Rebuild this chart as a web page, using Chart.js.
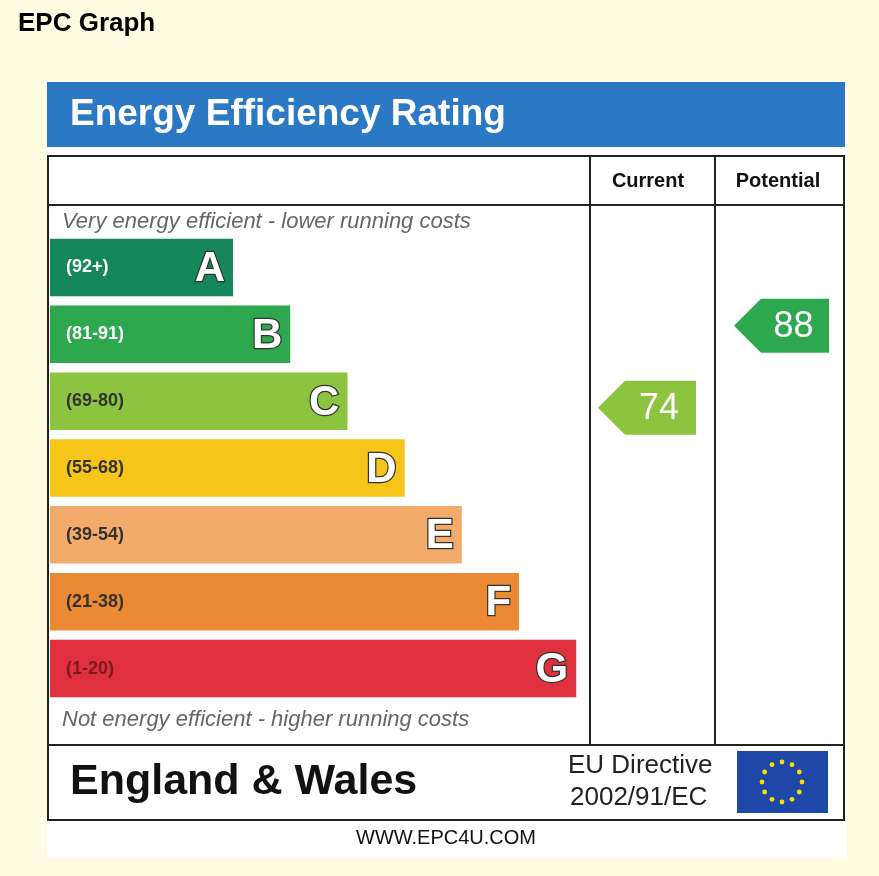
<!DOCTYPE html>
<html><head><meta charset="utf-8">
<script src="https://cdn.jsdelivr.net/npm/chart.js@4/dist/chart.umd.min.js"></script>
<style>html,body{margin:0;padding:0;background:#fffde1}canvas{display:block}</style>
</head><body>
<div style="width:879px;height:876px"><canvas id="c"></canvas></div>
<script>
const bands = ['A','B','C','D','E','F','G'];
const ranges = ['(92+)','(81-91)','(69-80)','(55-68)','(39-54)','(21-38)','(1-20)'];
const bandLengths = [32,42,52,62,72,82,92];
const bandColors = ['#15875a','#2ea84f','#8cc43f','#f7c51a','#f3ab6c','#ec8a34','#e0303e'];
const rangeTextColors = ['#fff','#fff','#333','#333','#333','#333','#7a1a1a'];
const currentRating = 74;
const potentialRating = 88;
const bandMins = [92,81,69,55,39,21,1];
const bandMaxs = [100,91,80,68,54,38,20];

function bandPos(r){
  for(let i=0;i<bandMins.length;i++){ if(r>=bandMins[i]){ const f=(bandMaxs[i]-r)/(bandMaxs[i]-bandMins[i]+1); return i-0.5+f+0.1; } }
  return 6;
}

const frame = {
  id:'frame',
  beforeDraw(ch){
    const c=ch.ctx; c.save();
    c.fillStyle='#fffde1'; c.fillRect(0,0,ch.width,ch.height);
    c.fillStyle='#000'; c.font='bold 26px Liberation Sans, Arial'; c.textBaseline='middle';
    c.fillText('EPC Graph',18,24);
    c.fillStyle='#fff'; c.fillRect(47,82,800,776);
    c.fillStyle='#2b78c5'; c.fillRect(47,82,798,65);
    c.fillStyle='#fff'; c.font='bold 37px Liberation Sans, Arial'; c.fillText('Energy Efficiency Rating',70,115);
    c.strokeStyle='#222'; c.lineWidth=2;
    c.strokeRect(48,156,796,664);
    c.beginPath();
    c.moveTo(48,205);c.lineTo(844,205);
    c.moveTo(48,745);c.lineTo(844,745);
    c.moveTo(590,156);c.lineTo(590,745);
    c.moveTo(715,156);c.lineTo(715,745);
    c.stroke();
    c.fillStyle='#111'; c.font='bold 20px Liberation Sans, Arial'; c.textAlign='center';
    c.fillText('Current',648,181); c.fillText('Potential',778,181);
    c.textAlign='left'; c.fillStyle='#666'; c.font='italic 22px Liberation Sans, Arial';
    c.fillText('Very energy efficient - lower running costs',62,222);
    c.fillText('Not energy efficient - higher running costs',62,720);
    c.fillStyle='#111'; c.font='bold 43px Liberation Sans, Arial';
    c.fillText('England & Wales',70,782);
    c.font='26px Liberation Sans, Arial'; c.fillStyle='#222';
    c.fillText('EU Directive',568,766); c.fillText('2002/91/EC',570,798);
    c.fillStyle='#1f47a8'; c.fillRect(737,751,91,62);
    c.fillStyle='#ffdd00';
    for(let k=0;k<12;k++){const a=k*Math.PI/6; c.beginPath(); c.arc(782+20*Math.cos(a),782+20*Math.sin(a),2.4,0,7); c.fill();}
    c.fillStyle='#111'; c.font='20px Liberation Sans, Arial'; c.textAlign='center';
    c.fillText('WWW.EPC4U.COM',446,838);
    c.restore();
  },
  afterDatasetsDraw(ch){
    const c=ch.ctx, y=ch.scales.y; c.save();
    const meta=ch.getDatasetMeta(0);
    meta.data.forEach((bar,i)=>{
      c.textBaseline='middle'; c.textAlign='left';
      c.fillStyle=rangeTextColors[i]; c.font='bold 18px Liberation Sans, Arial';
      c.fillText(ranges[i],66,bar.y);
      c.font='bold 42px Liberation Sans, Arial'; c.textAlign='right';
      c.lineWidth=2.5; c.strokeStyle='#333'; c.fillStyle='#fff';
      c.strokeText(bands[i],bar.x-8,bar.y+2); c.fillText(bands[i],bar.x-8,bar.y+2);
    });
    function arrow(r,x0,x1){
      const bi=bandPos(r); let idx=0; for(let i=0;i<bandMins.length;i++){if(r>=bandMins[i]){idx=i;break;}}
      const cy=y.getPixelForValue(bi), h=54;
      c.fillStyle=bandColors[idx];
      c.beginPath(); c.moveTo(x0,cy); c.lineTo(x0+27,cy-h/2); c.lineTo(x1,cy-h/2); c.lineTo(x1,cy+h/2); c.lineTo(x0+27,cy+h/2); c.closePath(); c.fill();
      c.fillStyle='#fff'; c.font='36px Liberation Sans, Arial'; c.textAlign='center'; c.textBaseline='middle';
      c.fillText(String(r),(x0+x1)/2+12,cy+1);
    }
    arrow(currentRating,598,696);
    arrow(potentialRating,734,829);
    c.restore();
  }
};

new Chart(document.getElementById('c'),{
  type:'bar',
  data:{labels:bands,datasets:[{data:bandLengths,backgroundColor:bandColors,barPercentage:0.86,categoryPercentage:1,borderWidth:0}]},
  options:{indexAxis:'y',responsive:true,maintainAspectRatio:false,animation:false,
    layout:{padding:{left:50,top:234,right:257,bottom:174}},
    plugins:{legend:{display:false},tooltip:{enabled:false}},
    scales:{x:{display:false,min:0,max:100},y:{display:false,offset:true}}
  },
  plugins:[frame]
});
</script>
</body></html>
